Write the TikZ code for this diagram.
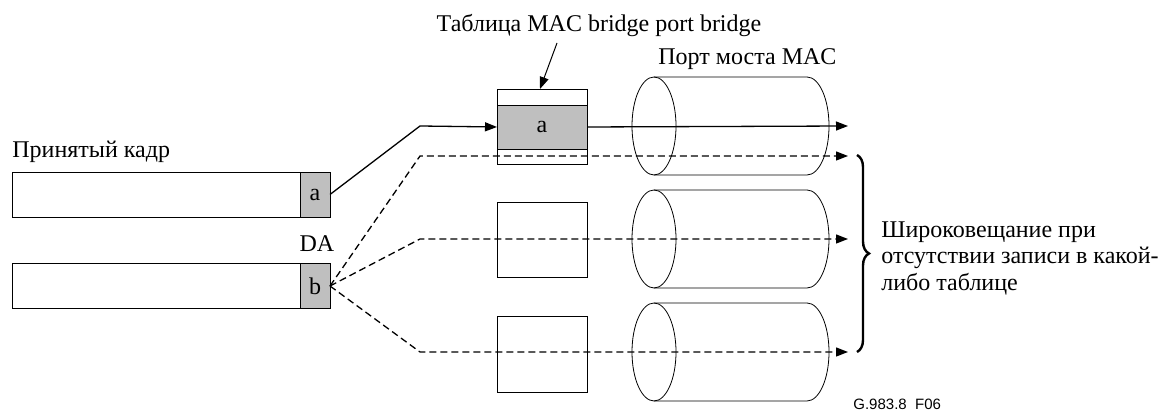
\documentclass[tikz,border=0pt]{standalone}
\usepackage{fontspec}
\setmainfont{Liberation Serif}
\newfontfamily\figsans{Liberation Sans}
\usetikzlibrary{arrows.meta,decorations.pathreplacing}

\tikzset{
  framebox/.style={draw, fill=white, minimum height=22.5pt, inner sep=0pt, outer sep=0pt},
  dabox/.style={draw, fill=black!25, minimum width=15pt, minimum height=22.5pt, inner sep=0pt, outer sep=0pt},
  tablebox/.style={draw, minimum width=45pt, inner sep=0pt, outer sep=0pt},
  fwd/.style={line width=0.65pt, -{Triangle[length=6pt,width=4.5pt]}},
  flood/.style={fwd, dash pattern=on 3.5pt off 2pt},
}
% one port cylinder, centre height #1
\def\portcyl#1{%
  \draw (654,#1) ellipse [x radius=11pt, y radius=24.5pt];
  \draw (654,#1-49) -- (807,#1-49) arc[start angle=90, end angle=-90, x radius=11pt, y radius=24.5pt] -- (654,#1+49);}

\begin{document}
\begin{tikzpicture}[x=0.5pt, y=-0.5pt, font=\fontsize{12}{13.25}\selectfont]
			\useasboundingbox (0,0) rectangle (1162,415);
			
			%%%%% received frames %%%%%
			\node[anchor=base west, inner sep=0pt] (rx-lbl) at (12,158) {Принятый кадр};
			\node[framebox, minimum width=144pt] (fa) at (156,194.5) {};
			\node[dabox, anchor=west] (fa-da) at (fa.east) {a};
			\node[framebox, minimum width=144pt] (fb) at (156,286) {};
			\node[dabox, anchor=west] (fb-da) at (fb.east) {b};
			\node[anchor=base, inner sep=0pt] (da-lbl) at (317,252) {DA};
			
			%%%%% tables %%%%%
			\node[tablebox, fill=black!25, minimum height=22pt] (ta) at (542,127) {a};
			\node[tablebox, anchor=south, minimum height=8pt] (ta-top) at (ta.north) {};
			\node[tablebox, anchor=north, minimum height=7.5pt] (ta-bot) at (ta.south) {};
			\node[tablebox, minimum height=37.5pt] (tb) at (542,239.5) {};
			\node[tablebox, minimum height=38pt] (tc) at (542,354) {};
			
			\node[anchor=base, inner sep=0pt] (tbl-lbl) at (599,32) {Таблица MAC bridge port bridge};
			\coordinate (tbl-tail) at (557,43);
			\draw[line width=0.5pt, -{Triangle[length=6pt,width=4.5pt]}] (tbl-tail) -- (ta-top.north -| 540,0);
			
			%%%%% ports %%%%%
			\node[anchor=base west, inner sep=0pt] (port-lbl) at (658,65) {Порт моста MAC};
			\portcyl{126}
			\portcyl{239}
			\portcyl{352}
			
			%%%%% forwarding %%%%%
			\coordinate (bendA) at (420,126);
			\coordinate (outA) at (848,126);
			\draw[fwd] (fa-da.east) -- (bendA) -- (ta.west);
			\draw[fwd] (ta.east) -- (outA);
			\foreach \y/\n in {156/1,239/2,352/3}{
				\coordinate (bend\n) at (420,\y);
				\coordinate (out\n) at (848,\y);
				\draw[flood] (fb-da.east) -- (bend\n) -- (out\n);
			}
			
			%%%%% broadcast %%%%%
			\draw[line width=1.2pt, decorate, decoration={brace, amplitude=6pt}] (857,155) -- (857,352);
			\node[anchor=west, align=left, inner sep=0pt] (flood-lbl) at (881,258) {Широковещание при\\отсутствии записи в какой-\\либо таблице};
			
			\node[anchor=base west, inner sep=0pt, font=\figsans\fontsize{7.5}{9}\selectfont] (fig-id) at (853,410) {G.983.8\ \ F06};
		\end{tikzpicture}
\end{document}
